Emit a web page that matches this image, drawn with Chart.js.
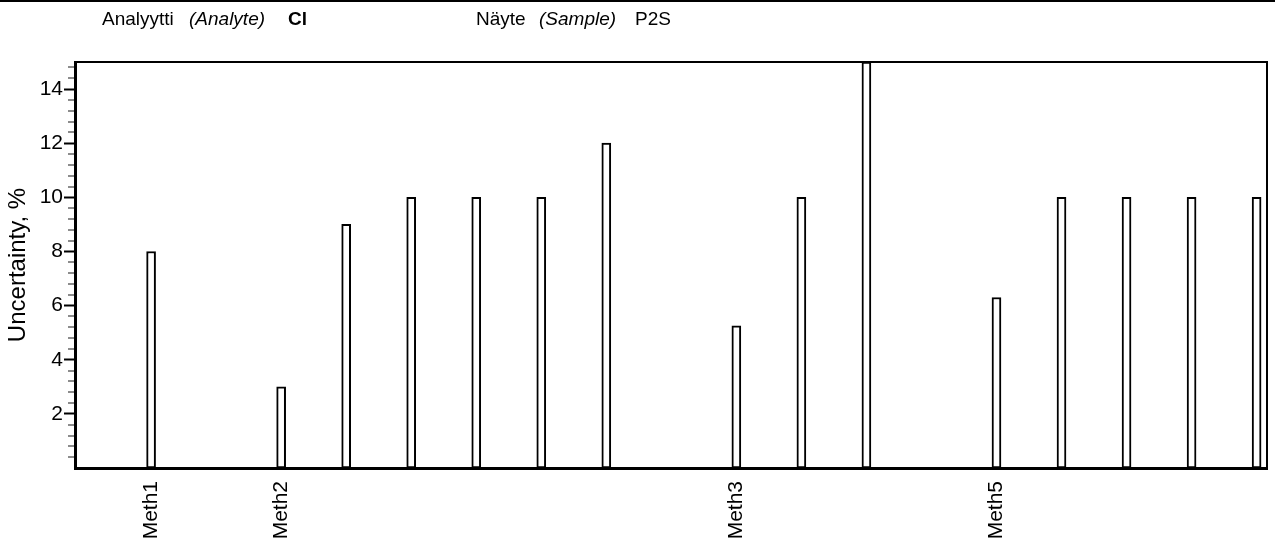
<!DOCTYPE html>
<html>
<head>
<meta charset="utf-8">
<title>Cl P2S uncertainty</title>
<script src="https://cdn.jsdelivr.net/npm/chart.js@4.4.1/dist/chart.umd.min.js"></script>
<style>
  html, body { margin: 0; padding: 0; background: #fff; }
  #wrap { position: relative; width: 1275px; height: 543px; }
  #topline { position: absolute; left: 0; top: 0; width: 1275px; height: 2px; background: #000; }
  .hdr {
    position: absolute; top: 8px;
    font: 19px 'Liberation Sans', Arial, sans-serif; color: #000;
    white-space: pre;
  }
  #chart { position: absolute; left: 0; top: 0; }
</style>
</head>
<body>
<div id="wrap">
  <canvas id="chart" width="1275" height="543"></canvas>
  <div id="topline"></div>
  <div class="hdr" style="left:102px">Analyytti</div>
  <div class="hdr" style="left:189px"><i>(Analyte)</i></div>
  <div class="hdr" style="left:288px"><b>Cl</b></div>
  <div class="hdr" style="left:476px">Näyte</div>
  <div class="hdr" style="left:539px"><i>(Sample)</i></div>
  <div class="hdr" style="left:635px">P2S</div>
</div>
<script>
// one slot per lab result, method name shown under the first result of each method
const methods = ['Meth1', '', 'Meth2', '', '', '', '', '', '', 'Meth3', '', '', '', 'Meth5', '', '', '', ''];
const uncertainty = [8, null, 3, 9, 10, 10, 10, 12, null, 5.25, 10, 15, null, 6.3, 10, 10, 10, 10];
const yLabels = [2, 4, 6, 8, 10, 12, 14];
const minorStep = 0.4;

const FONT = "'Liberation Sans', Arial, sans-serif";

const points = uncertainty
  .map((v, i) => ({x: i, y: v}))
  .filter(p => p.y !== null);
const labelSlots = methods
  .map((m, i) => (m ? i : -1))
  .filter(i => i >= 0);

function isMajor(v) {
  return yLabels.some(t => Math.abs(t - v) < 1e-6);
}

// top/right frame edges plus the short grey minor ticks on the y axis
const frame = {
  id: 'frame',
  afterDatasetsDraw(chart) {
    const {ctx, chartArea: a} = chart;
    const y = chart.scales.y;
    ctx.save();
    ctx.strokeStyle = '#000';
    ctx.lineWidth = 2;
    ctx.beginPath();
    ctx.moveTo(a.left, a.top);
    ctx.lineTo(a.right, a.top);
    ctx.lineTo(a.right, a.bottom);
    ctx.stroke();

    ctx.strokeStyle = '#8c8c8c';
    ctx.beginPath();
    y.ticks.forEach(t => {
      if (isMajor(t.value)) return;
      const py = Math.round(y.getPixelForValue(t.value));
      ctx.moveTo(a.left - 7, py);
      ctx.lineTo(a.left - 1, py);
    });
    ctx.stroke();
    ctx.restore();
  }
};

new Chart(document.getElementById('chart'), {
  type: 'bar',
  data: {
    datasets: [{
      label: 'Uncertainty',
      data: points,
      backgroundColor: '#fff',
      borderColor: '#000',
      borderWidth: 2,
      borderSkipped: false,
      barThickness: 9
    }]
  },
  options: {
    responsive: false,
    animation: false,
    devicePixelRatio: 1,
    layout: {padding: {top: 62, right: 8, left: 0, bottom: 0}},
    plugins: {
      legend: {display: false},
      tooltip: {enabled: false}
    },
    scales: {
      x: {
        type: 'linear',
        offset: false,
        min: -1.17,
        max: 17.16,
        grid: {display: false, offset: false},
        border: {display: true, color: '#000', width: 3},
        afterDataLimits: scale => {
          scale.min = -1.17;
          scale.max = 17.16;
        },
        afterBuildTicks: scale => {
          scale.ticks = labelSlots.map(v => ({value: v}));
        },
        afterFit: scale => { scale.height = 75; },
        ticks: {
          autoSkip: false,
          minRotation: 90,
          maxRotation: 90,
          padding: 5,
          color: '#000',
          font: {family: FONT, size: 21},
          callback: v => methods[v] || ''
        }
      },
      y: {
        min: 0,
        max: 15,
        grid: {
          drawOnChartArea: false,
          drawTicks: true,
          tickLength: 11,
          tickWidth: 2,
          tickColor: ctx => (isMajor(ctx.tick.value) ? '#000' : 'rgba(0,0,0,0)')
        },
        border: {display: true, color: '#000', width: 3},
        afterBuildTicks: scale => {
          const ticks = [];
          for (let i = 1; i * minorStep < 15; i++) {
            ticks.push({value: +(i * minorStep).toFixed(2)});
          }
          scale.ticks = ticks;
        },
        afterFit: scale => { scale.width = 75; },
        ticks: {
          autoSkip: false,
          padding: 1,
          color: '#000',
          font: {family: FONT, size: 21},
          callback: v => (isMajor(v) ? String(Math.round(v)) : '')
        },
        title: {
          display: true,
          text: 'Uncertainty, %',
          color: '#000',
          font: {family: FONT, size: 24},
          padding: {top: 4, bottom: 0}
        }
      }
    }
  },
  plugins: [frame]
});
</script>
</body>
</html>
